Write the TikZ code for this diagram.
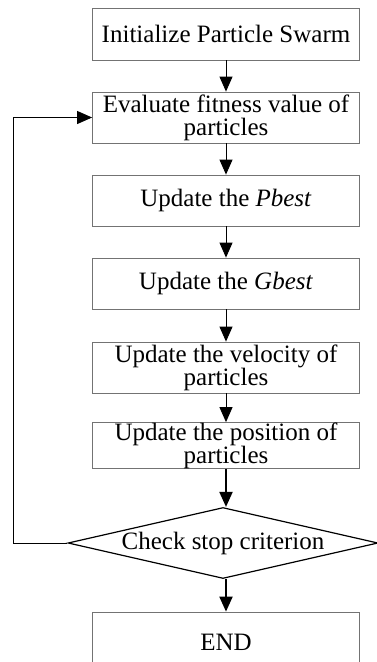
\documentclass[tikz,border=0pt]{standalone}
\usepackage{fontspec}
\setmainfont{Liberation Serif}
\usetikzlibrary{shapes.geometric,arrows.meta}

\begin{document}
\begin{tikzpicture}[x=1pt,y=-1pt,
    stepbox/.style={draw=black!55, line width=.8pt, minimum width=267pt,
        minimum height=51pt, align=center, inner sep=0pt,
        font=\fontsize{25}{23}\selectfont},
    decision/.style={diamond, draw, line width=1.2pt, aspect=4.4, inner sep=0pt,
        minimum width=310pt, minimum height=71pt,
        font=\fontsize{25}{23}\selectfont},
    flow/.style={-{Triangle[length=15pt,width=13pt]}, line width=.9pt},
    thickflow/.style={flow, line width=2pt}]
    \useasboundingbox (0,0) rectangle (376,662);

    \node[stepbox, minimum height=52pt] (init) at (226,34) {Initialize Particle Swarm};
    \node[stepbox] (eval) at (226,117.5) {Evaluate fitness value of\\particles};
    \node[stepbox] (pbest) at (226,200.5) {Update the \textit{Pbest}};
    \node[stepbox] (gbest) at (226,283.5) {Update the \textit{Gbest}};
    \node[stepbox] (velo) at (226,367.5) {Update the velocity of\\particles};
    \node[stepbox, minimum height=43pt] (posi) at (226,445.5) {Update the position of\\particles};
    \node[decision] (check) at (223,543) {Check stop criterion};
    \node[stepbox, minimum height=60pt] (end) at (226,642) {END};

    \draw[flow] (init) -- (eval);
    \draw[flow] (eval) -- (pbest);
    \draw[flow] (pbest) -- (gbest);
    \draw[flow] (gbest) -- (velo);
    \draw[flow] (velo) -- (posi);
    \draw[thickflow] (posi.south) -- (check.north -| posi.south);
    \draw[thickflow] (check.south -| end.north) -- (end);

    % back to evaluation
    \draw[flow] (check.west) -| (13,117.5) -- (eval.west);
\end{tikzpicture}
\end{document}
